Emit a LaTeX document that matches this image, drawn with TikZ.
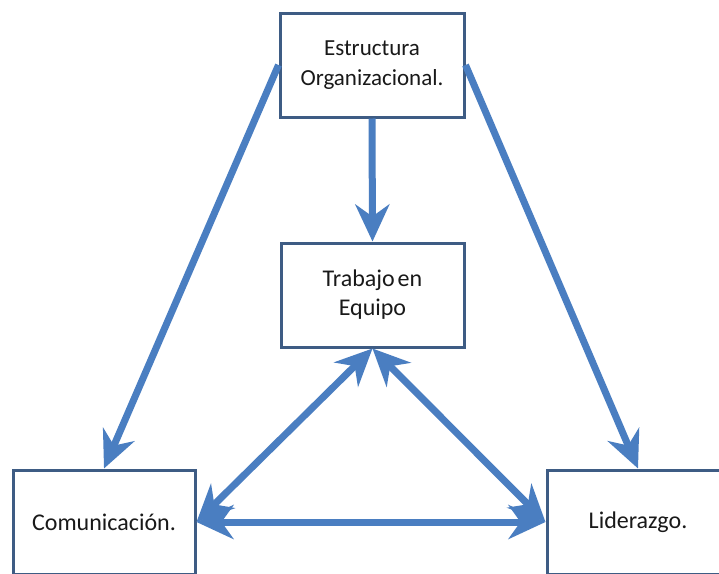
\documentclass[tikz,border=0pt]{standalone}
\usepackage{fontspec}
\setmainfont{Carlito}
\usetikzlibrary{arrows.meta}
\definecolor{boxline}{RGB}{62,92,132}
\definecolor{arrowblue}{RGB}{74,126,193}
\definecolor{txt}{RGB}{25,25,25}
\tikzset{
  box/.style={draw=boxline, line width=3pt, fill=white, minimum width=#1,
    minimum height=104pt, inner sep=0pt, align=center, text=txt,
    font=\fontsize{23}{30}\selectfont},
  box/.default=184pt,
  tip/.tip={Stealth[length=37pt, width=34pt, inset=12pt]},
  flow/.style={draw=arrowblue, line width=7pt, -tip},
  twoway/.style={draw=arrowblue, line width=7pt, tip-tip}
}
\begin{document}
\begin{tikzpicture}[x=1pt, y=-1pt]
  \fill[white] (0,0) rectangle (719,573);
  \clip (0,0) rectangle (719,573);
  \useasboundingbox (0,0) rectangle (719,573);

  % boxes
  \node[box] (org) at (372,65) {Estructura\\Organizacional.};
  \node[box=183pt, font=\fontsize{24}{29}\selectfont] (team) at (372.5,295)
    {Trabajo\hspace{0.12em}en\\Equipo};
  \node[box=182pt, font=\fontsize{24}{30}\selectfont] (com) at (104,522) {Comunicación.};
  \node[box=182pt, font=\fontsize{24}{30}\selectfont] (lead) at (638,522) {Liderazgo.};

  % connectors
  \draw[flow] (org.west) -- (com.north);
  \draw[flow] (org.east) -- (lead.north);
  \draw[flow] (org.south) -- (team.north);
  \draw[twoway] (com.east) -- (team.south);
  \draw[twoway] (lead.west) -- (team.south);
  \draw[twoway] (com.east) -- (lead.west);
\end{tikzpicture}
\end{document}
